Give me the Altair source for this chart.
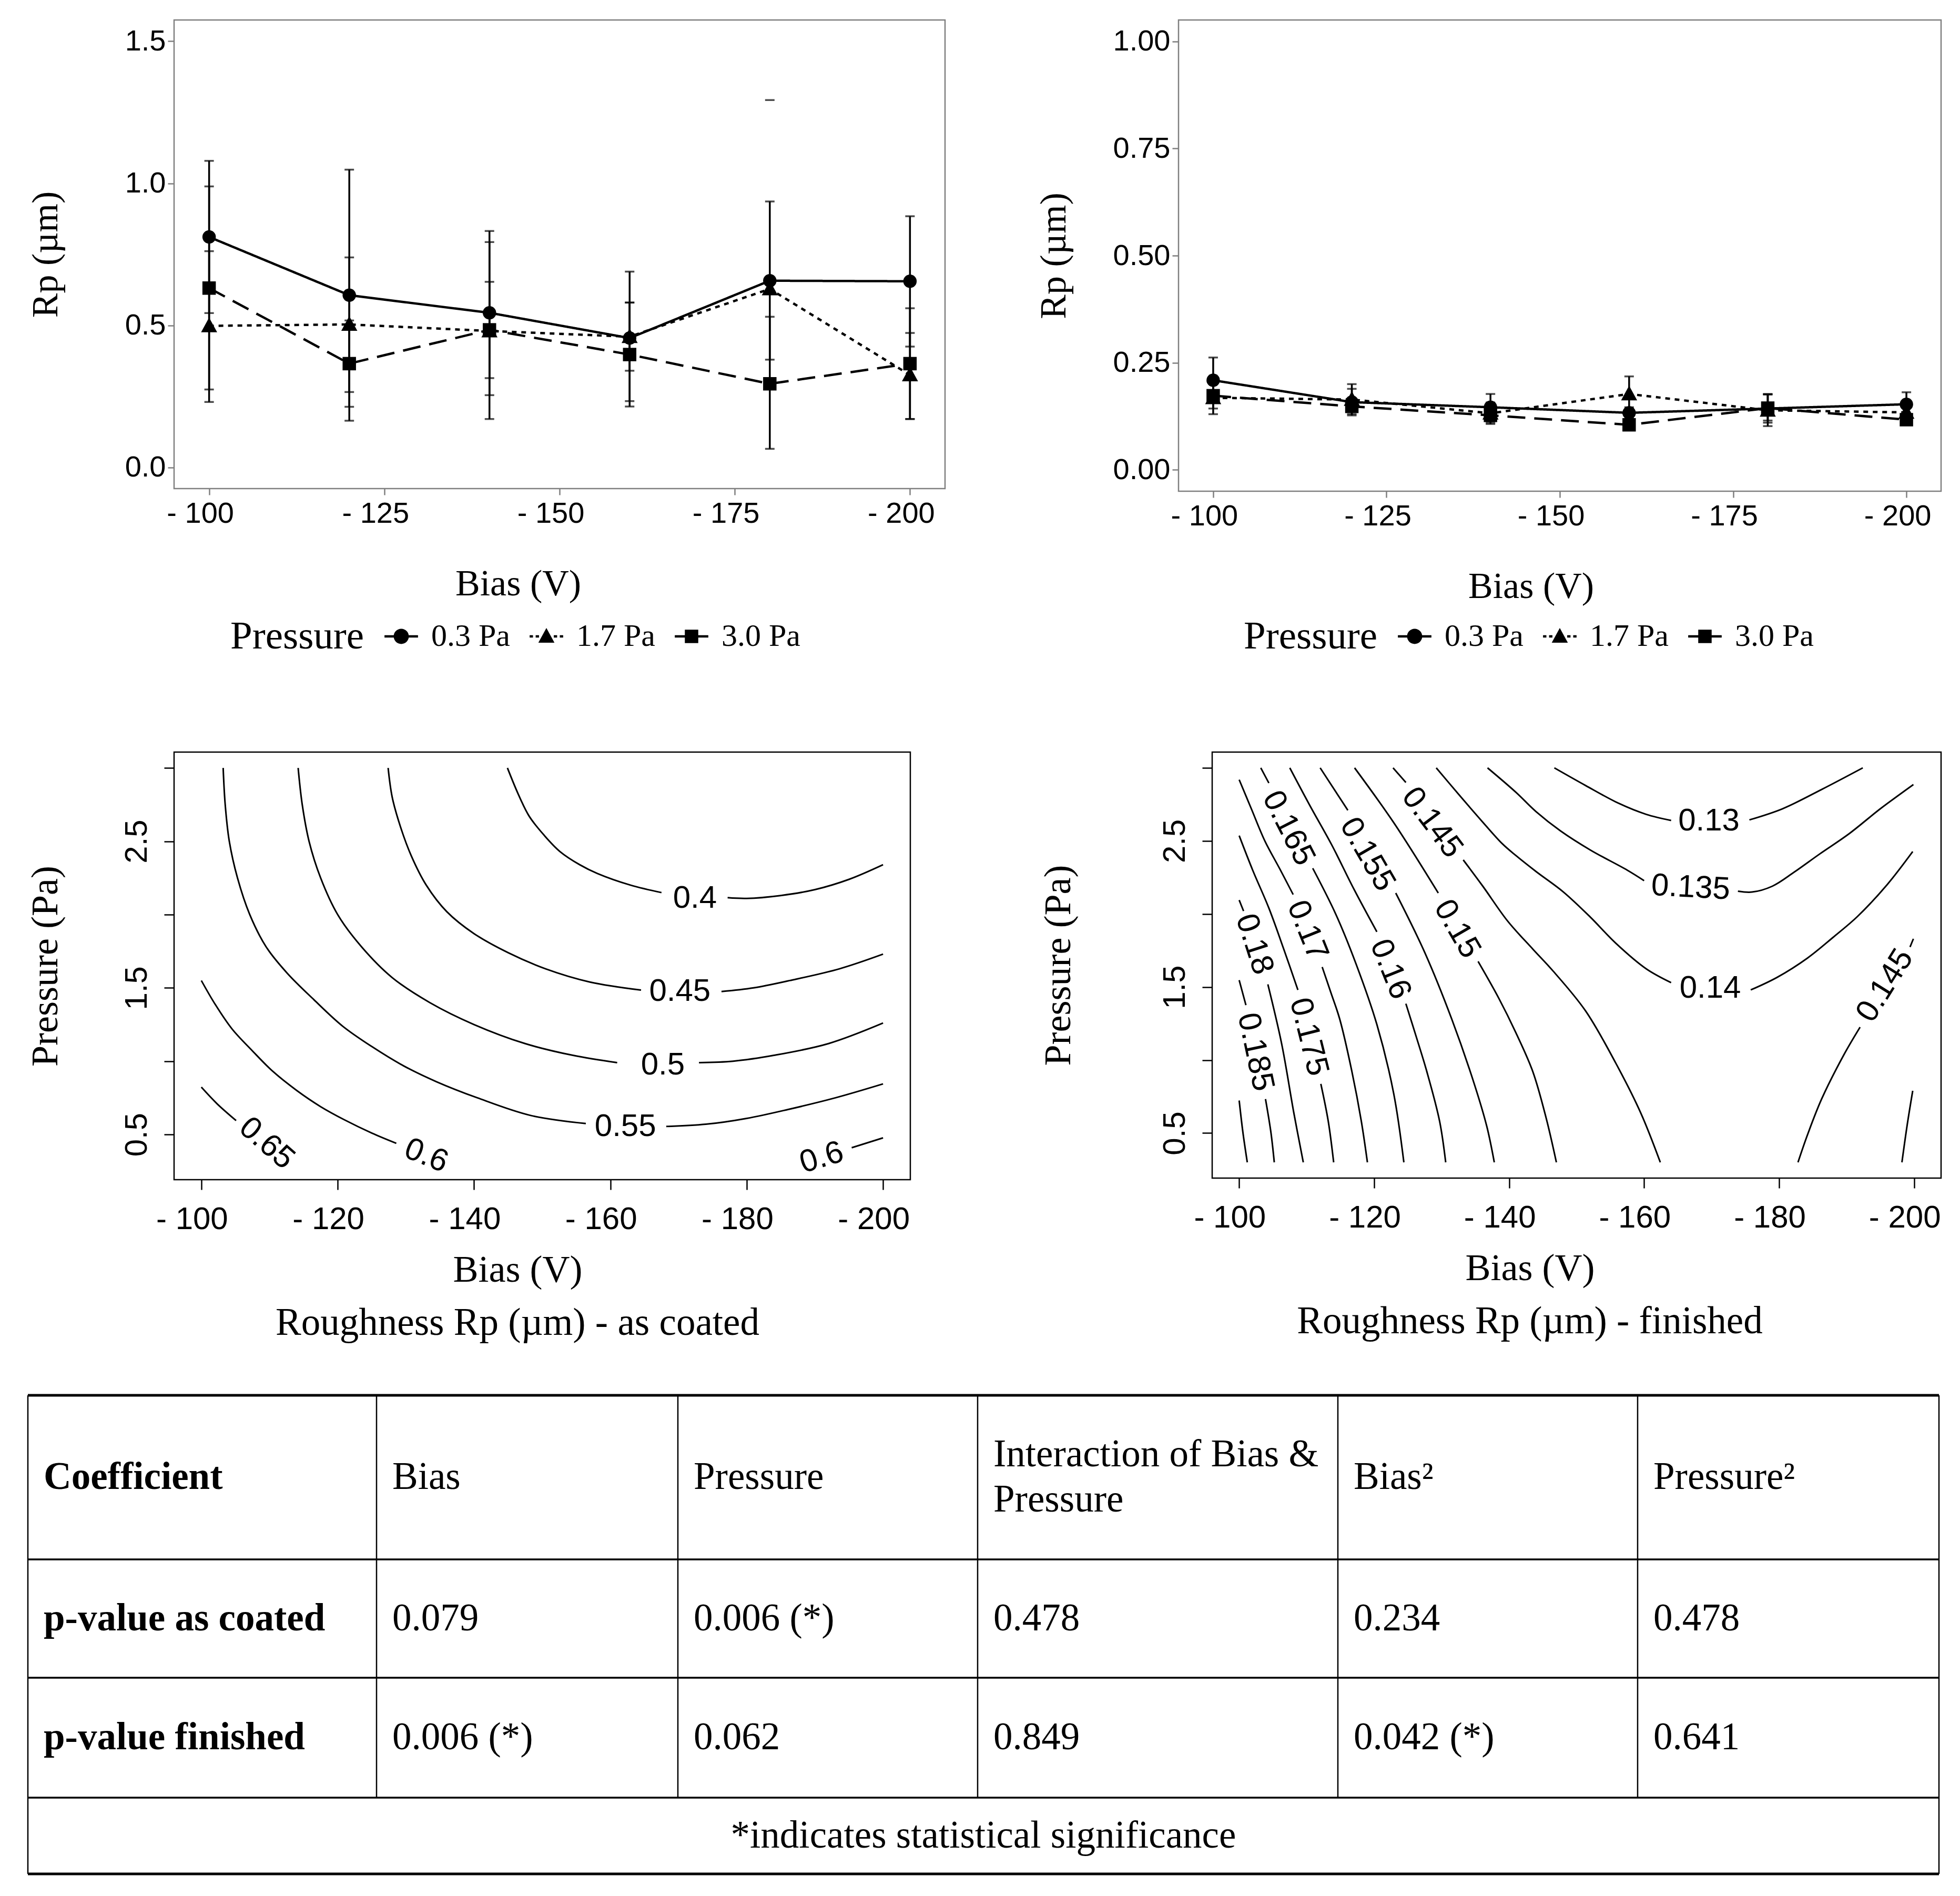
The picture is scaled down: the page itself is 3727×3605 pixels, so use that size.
import altair as alt
import pandas as pd

# ---------------- data ----------------
BIAS = [100, 120, 140, 160, 180, 200]          # |bias| in V (axis shows "- 100" ...)
PRESSURE_LEVELS = ["0.3 Pa", "1.7 Pa", "3.0 Pa"]

# as coated
coated_mean_03 = [0.811, 0.606, 0.544, 0.455, 0.657, 0.655]
coated_lo_03 = [0.543, 0.164, 0.254, 0.233, 0.379, 0.425]
coated_hi_03 = [1.079, 1.048, 0.832, 0.689, 0.936, 0.884]
coated_mean_17 = [0.498, 0.503, 0.480, 0.460, 0.628, 0.325]
coated_lo_17 = [0.230, 0.265, 0.314, 0.340, None, 0.170]
coated_hi_17 = [0.761, 0.739, 0.653, 0.580, None, 0.473]
coated_mean_30 = [0.631, 0.365, 0.484, 0.397, 0.294, 0.365]
coated_lo_30 = [0.274, 0.213, 0.170, 0.214, 0.065, 0.170]
coated_hi_30 = [0.989, 0.517, 0.793, 0.580, 0.530, 0.560]
coated_stray_cap_bias = [180]
coated_stray_cap_value = [1.293]

# finished
finished_mean_03 = [0.209, 0.158, 0.146, 0.133, 0.143, 0.153]
finished_lo_03 = [0.156, 0.127, 0.115, 0.120, 0.110, 0.125]
finished_hi_03 = [0.262, 0.189, 0.177, 0.146, 0.176, 0.181]
finished_mean_17 = [0.168, 0.164, 0.132, 0.177, 0.139, 0.134]
finished_lo_17 = [0.130, 0.135, 0.107, 0.136, 0.102, 0.120]
finished_hi_17 = [0.206, 0.200, 0.157, 0.218, 0.176, 0.150]
finished_mean_30 = [0.173, 0.148, 0.127, 0.105, 0.144, 0.117]
finished_lo_30 = [0.143, 0.130, 0.110, 0.096, 0.115, 0.107]
finished_hi_30 = [0.203, 0.166, 0.144, 0.114, 0.177, 0.127]

# contour lines (|bias| V, pressure Pa), split where the labels sit
coated_contours = [
    ("0.4", [(144.9, 3.0), (146.5, 2.82), (148.1, 2.67), (150.3, 2.54), (152.6, 2.43), (155.5, 2.34),
             (158.1, 2.28), (163.0, 2.20), (167.5, 2.15)]),
    ("0.4", [(177.2, 2.115), (180.0, 2.11), (185.0, 2.13), (190.0, 2.17), (195.0, 2.24), (200.0, 2.34)]),
    ("0.45", [(127.4, 3.0), (128.0, 2.8), (129.2, 2.6), (130.8, 2.4), (133.0, 2.2), (136.0, 2.02),
              (140.0, 1.87), (145.0, 1.74), (150.5, 1.63), (157.0, 1.54), (164.5, 1.485)]),
    ("0.45", [(176.3, 1.475), (181.0, 1.50), (186.3, 1.55), (193.6, 1.63), (200.0, 1.73)]),
    ("0.5", [(114.2, 3.0), (114.8, 2.75), (115.8, 2.5), (117.5, 2.25), (120.0, 2.0), (123.5, 1.78),
             (128.0, 1.57), (133.5, 1.40), (140.0, 1.25), (147.5, 1.12), (154.5, 1.04), (161.0, 0.99)]),
    ("0.5", [(173.0, 0.99), (178.0, 1.0), (184.0, 1.04), (192.0, 1.12), (200.0, 1.26)]),
    ("0.55", [(103.2, 3.0), (103.5, 2.75), (104.1, 2.5), (105.3, 2.25), (107.1, 2.0), (109.5, 1.78),
              (112.6, 1.60), (116.5, 1.42), (120.7, 1.24), (125.0, 1.10), (129.6, 0.97), (134.5, 0.86),
              (140.5, 0.75), (148.3, 0.63), (156.4, 0.575)]),
    ("0.55", [(168.2, 0.555), (174.0, 0.57), (180.0, 0.61), (186.0, 0.67), (193.0, 0.75), (200.0, 0.845)]),
    ("0.6", [(100.0, 1.55), (102.0, 1.39), (104.5, 1.22), (107.5, 1.07), (110.5, 0.93), (114.0, 0.80),
             (117.5, 0.69), (121.0, 0.60), (125.0, 0.51), (128.6, 0.44)]),
    ("0.6", [(195.4, 0.41), (200.0, 0.477)]),
    ("0.65", [(100.0, 0.823), (102.3, 0.71), (105.1, 0.595)]),
]
coated_labels = [
    ("0.4", 172.4, 2.11, 0), ("0.45", 170.2, 1.475, 0), ("0.5", 167.7, 0.975, 0),
    ("0.55", 162.2, 0.555, 0), ("0.6", 133.0, 0.355, 22), ("0.6", 191.0, 0.342, 343),
    ("0.65", 109.6, 0.44, 41),
]

finished_contours = [
    ("0.19", [(100.0, 0.723), (100.55, 0.506), (101.2, 0.30)]),
    ("0.185", [(100.0, 1.547), (101.0, 1.376)]),
    ("0.185", [(103.9, 0.733), (104.7, 0.506), (105.2, 0.30)]),
    ("0.18", [(100.0, 2.095), (100.65, 2.02)]),
    ("0.18", [(104.25, 1.518), (106.3, 1.11), (108.1, 0.638), (109.5, 0.30)]),
    ("0.175", [(100.0, 2.536), (102.0, 2.30), (104.4, 2.04), (106.6, 1.76), (108.7, 1.48)]),
    ("0.175", [(112.1, 0.837), (113.2, 0.581), (114.0, 0.30)]),
    ("0.17", [(100.0, 2.919), (101.8, 2.72), (103.8, 2.50), (106.0, 2.31), (108.0, 2.133)]),
    ("0.17", [(112.3, 1.637), (113.6, 1.46), (114.9, 1.28), (116.7, 0.922), (118.1, 0.581), (119.0, 0.30)]),
    ("0.165", [(103.2, 3.0), (104.4, 2.896)]),
    ("0.165", [(110.9, 2.313), (114.3, 2.0), (117.3, 1.66), (120.4, 1.244), (122.9, 0.77), (124.4, 0.30)]),
    ("0.16", [(107.5, 3.0), (110.5, 2.74), (113.7, 2.474), (117.0, 2.17), (120.4, 1.878)]),
    ("0.16", [(124.7, 1.386), (126.3, 1.15), (127.8, 0.922), (129.7, 0.581), (130.6, 0.30)]),
    ("0.155", [(112.0, 3.0), (116.1, 2.71)]),
    ("0.155", [(123.2, 2.143), (127.5, 1.736), (131.5, 1.28), (134.9, 0.827), (136.7, 0.544), (137.8, 0.30)]),
    ("0.15", [(117.1, 3.0), (122.9, 2.625), (129.5, 2.143)]),
    ("0.15", [(135.4, 1.675), (138.5, 1.42), (141.0, 1.187), (143.5, 0.922), (145.5, 0.60), (147.0, 0.30)]),
    ("0.145", [(122.8, 3.0), (124.7, 2.90)]),
    ("0.145", [(133.2, 2.37), (136.1, 2.19), (139.8, 1.95), (143.5, 1.76), (146.5, 1.61), (151.3, 1.338),
               (155.8, 0.979), (159.5, 0.638), (162.4, 0.30)]),
    ("0.14", [(129.2, 3.0), (132.5, 2.82), (135.8, 2.644), (139.0, 2.48), (141.0, 2.40), (144.0, 2.29),
              (148.0, 2.152), (152.0, 1.98), (155.8, 1.80), (160.3, 1.625), (164.0, 1.53)]),
    ("0.14", [(175.8, 1.48), (179.7, 1.566), (184.2, 1.698), (188.0, 1.84), (191.6, 1.982), (196.0, 2.20),
              (199.8, 2.427)]),
    ("0.135", [(136.8, 3.0), (141.0, 2.833), (144.0, 2.70), (147.6, 2.569), (152.1, 2.436), (157.5, 2.30),
               (160.0, 2.228)]),
    ("0.135", [(173.9, 2.156), (176.0, 2.15), (179.0, 2.19), (182.2, 2.285), (186.0, 2.41), (190.4, 2.55),
               (195.0, 2.72), (199.9, 2.886)]),
    ("0.13", [(146.7, 3.0), (151.3, 2.88), (156.2, 2.758), (160.3, 2.682), (164.0, 2.64)]),
    ("0.13", [(175.6, 2.644), (180.5, 2.72), (186.3, 2.852), (192.4, 3.0)]),
    ("0.145", [(199.9, 1.83), (199.4, 1.774)]),
    ("0.145", [(192.0, 1.225), (189.6, 1.036), (186.3, 0.733), (184.2, 0.487), (182.8, 0.30)]),
    ("0.15", [(199.8, 0.79), (199.0, 0.562), (198.2, 0.30)]),
]
finished_labels = [
    ("0.185", 102.4, 1.055, 78), ("0.18", 102.25, 1.793, 72), ("0.175", 110.3, 1.159, 76),
    ("0.17", 110.1, 1.887, 68), ("0.165", 107.3, 2.587, 63), ("0.16", 122.4, 1.622, 68),
    ("0.155", 119.0, 2.408, 60), ("0.15", 132.3, 1.897, 60), ("0.145", 128.6, 2.625, 53),
    ("0.14", 169.8, 1.49, 0), ("0.135", 166.9, 2.18, 3), ("0.13", 169.6, 2.635, 0),
    ("0.145", 195.7, 1.51, 302),
]

TABLE_HEADER = ["Coefficient", "Bias", "Pressure", "Interaction of Bias &\nPressure", "Bias²", "Pressure²"]
TABLE_ROW_COATED = ["p-value as coated", "0.079", "0.006 (*)", "0.478", "0.234", "0.478"]
TABLE_ROW_FINISHED = ["p-value finished", "0.006 (*)", "0.062", "0.849", "0.042 (*)", "0.641"]
TABLE_FOOTNOTE = "*indicates statistical significance"

# ---------------- styling constants ----------------
SERIF = "Liberation Serif"
SANS = "Liberation Sans"
GREY = "#7f7f7f"
MARKER_SHAPES = ["circle", "M0,-1.25L1.2,0.95L-1.2,0.95Z", "square"]
# legend keys: marker with a short piece of its line style through it (ggplot style)
KEY_SHAPES = [
    "M-1.13,0A1.13,1.13,0,1,1,1.13,0A1.13,1.13,0,1,1,-1.13,0Z M-2.5,-0.18H2.5V0.18H-2.5Z",
    "M0,-1.25L1.2,0.95L-1.2,0.95Z M-2.5,-0.18H-2.0V0.18H-2.5Z M-1.6,-0.18H-1.1V0.18H-1.6Z "
    "M1.1,-0.18H1.6V0.18H1.1Z M2.0,-0.18H2.5V0.18H2.0Z",
    "M-1,-1H1V1H-1Z M-2.5,-0.18H2.5V0.18H-2.5Z",
]
DASHES = [[1, 0], [9, 9], [34, 17]]


def series_frame(means, los, his):
    rows = []
    for lvl, m, lo, hi in zip(PRESSURE_LEVELS, means, los, his):
        for b, mv, l, h in zip(BIAS, m, lo, hi):
            rows.append(dict(bias=b, pressure=lvl, rp=mv, lo=l, hi=h))
    return pd.DataFrame(rows)


def line_panel(df, stray_b, stray_v, y_domain, y_values, y_format, width, height,
               y_title_pad, legend_x, x_title_dx):
    xs = alt.Scale(domain=[95, 205], nice=False, zero=False)
    ys = alt.Scale(domain=y_domain, nice=False, zero=False)
    xaxis = alt.Axis(values=[100, 125, 150, 175, 200], labelExpr="'- ' + datum.value",
                     title="Bias (V)", tickSize=12, tickWidth=2.5, tickColor=GREY,
                     labelPadding=8, labelFontSize=56, labelOffset=-17, labelFont=SANS,
                     titleFont=SERIF, titleFontSize=70, titleFontWeight="normal",
                     titlePadding=72, titleX=width / 2 + x_title_dx, domain=False, grid=False,
                     labelColor="black", titleColor="black")
    yaxis = alt.Axis(values=y_values, format=y_format, title="Rp (µm)", tickSize=12,
                     tickWidth=2.5, tickColor=GREY, labelPadding=4, labelFontSize=56,
                     labelFont=SANS, titleFont=SERIF, titleFontSize=70, titleFontWeight="normal",
                     titlePadding=y_title_pad, domain=False, grid=False,
                     labelColor="black", titleColor="black")
    X = lambda f: alt.X(f, type="quantitative", scale=xs, axis=xaxis)
    Y = lambda f: alt.Y(f, type="quantitative", scale=ys, axis=yaxis)

    err = df.dropna(subset=["lo", "hi"])
    rules = alt.Chart(err).mark_rule(color="black", strokeWidth=3.5).encode(
        x=X("bias"), y=Y("lo"), y2="hi")
    cap_lo = alt.Chart(err).mark_tick(color="black", orient="horizontal", size=18,
                                      thickness=3.5).encode(x=X("bias"), y=Y("lo"))
    cap_hi = alt.Chart(err).mark_tick(color="black", orient="horizontal", size=18,
                                      thickness=3.5).encode(x=X("bias"), y=Y("hi"))
    layers = [rules, cap_lo, cap_hi]
    if stray_b:
        sdf = pd.DataFrame({"bias": stray_b, "hi": stray_v})
        layers.append(alt.Chart(sdf).mark_tick(color="black", orient="horizontal", size=18,
                                               thickness=3.5).encode(x=X("bias"), y=Y("hi")))
    for lvl, dash in zip(PRESSURE_LEVELS, DASHES):
        layers.append(alt.Chart(df[df["pressure"] == lvl]).mark_line(
            color="black", strokeWidth=4.5, strokeDash=dash).encode(x=X("bias"), y=Y("rp")))
    points = alt.Chart(df).mark_point(filled=True, color="black", opacity=1, size=650).encode(
        x=X("bias"), y=Y("rp"),
        shape=alt.Shape("pressure:N",
                        scale=alt.Scale(domain=PRESSURE_LEVELS, range=MARKER_SHAPES),
                        legend=None))
    legend = alt.Legend(title="Pressure", orient="none", legendX=legend_x, legendY=1142,
                        direction="horizontal", titleOrient="left", titleFont=SERIF,
                        titleFontSize=75, titleFontWeight="normal", titleColor="black",
                        titleLimit=2000, labelLimit=2000,
                        titlePadding=40, labelFont=SERIF, labelFontSize=60, labelColor="black",
                        labelOffset=27, columnPadding=37, symbolSize=650, symbolOpacity=1,
                        symbolFillColor="black", symbolStrokeWidth=0)
    keys = alt.Chart(df).mark_point(filled=True, color="black", opacity=0, size=650).encode(
        x=X("bias"), y=Y("rp"),
        shape=alt.Shape("pressure:N",
                        scale=alt.Scale(domain=PRESSURE_LEVELS, range=KEY_SHAPES),
                        legend=legend))
    layers += [points, keys]
    return alt.layer(*layers).resolve_scale(shape="independent").properties(
        width=width, height=height,
        view=alt.ViewBackground(stroke=GREY, strokeWidth=2.5, fill="white"))


def contour_panel(lines, labels, width, height, y_title_pad, x_title_dx, subtitle, subtitle_dx):
    rows = []
    for i, (lvl, pts) in enumerate(lines):
        for j, (b, p) in enumerate(pts):
            rows.append(dict(seg=i, ord=j, level=lvl, bias=b, p=p))
    df = pd.DataFrame(rows)
    ldf = pd.DataFrame([dict(label=t, bias=b, p=p, angle=a) for t, b, p, a in labels])
    xs = alt.Scale(domain=[96, 204], nice=False, zero=False)
    ys = alt.Scale(domain=[0.192, 3.108], nice=False, zero=False)
    xaxis = alt.Axis(values=[100, 120, 140, 160, 180, 200], labelExpr="'- ' + datum.value",
                     title="Bias (V)", tickSize=19, tickWidth=2.5, tickColor="black",
                     labelPadding=27, labelFontSize=60, labelOffset=-18, labelFont=SANS,
                     titleFont=SERIF, titleFontSize=72, titleFontWeight="normal",
                     titlePadding=31, titleX=width / 2 + x_title_dx, domain=False, grid=False,
                     labelColor="black", titleColor="black")
    yaxis = alt.Axis(values=[0.5, 1.0, 1.5, 2.0, 2.5, 3.0],
                     labelExpr="(datum.value == 0.5 || datum.value == 1.5 || datum.value == 2.5) ? datum.label : ''",
                     labelAngle=270, labelAlign="center", labelBaseline="alphabetic",
                     title="Pressure (Pa)", tickSize=19, tickWidth=2.5, tickColor="black",
                     labelPadding=34, labelFontSize=60, labelFont=SANS, titleFont=SERIF,
                     titleFontSize=72, titleFontWeight="normal", titlePadding=y_title_pad,
                     domain=False, grid=False, labelColor="black", titleColor="black")
    X = alt.X("bias:Q", scale=xs, axis=xaxis)
    Y = alt.Y("p:Q", scale=ys, axis=yaxis)
    line = alt.Chart(df).mark_line(color="black", strokeWidth=3, interpolate="catmull-rom").encode(
        x=X, y=Y, detail="seg:N", order="ord:Q")
    text = alt.Chart(ldf).mark_text(font=SANS, fontSize=60, color="black", align="center",
                                    baseline="middle").encode(
        x=X, y=Y, text="label:N", angle=alt.Angle("angle:Q", scale=None))
    return alt.layer(line, text).properties(
        width=width, height=height,
        view=alt.ViewBackground(stroke="black", strokeWidth=2.5, fill="white"),
        title=alt.TitleParams(subtitle, orient="bottom", font=SERIF, fontSize=73,
                              fontWeight="normal", color="black", offset=30, dx=subtitle_dx,
                              anchor="middle", frame="group"))


# ---------------- table ----------------
TABLE_W, TABLE_H = 3634, 910
TABLE_SHIFT = 278          # table starts this far left of the plot areas
COL_EDGES = [0, 663, 1236, 1806, 2491, 3061, 3634]
ROW_EDGES = [0, 312, 537, 765, 910]
CELL_PAD = 30
LINE_H = 86


def table_chart():
    rule_rows = []
    for y in ROW_EDGES:
        rule_rows.append(dict(x=0, x2=TABLE_W, y=y, y2=y, w=5 if y in (0, TABLE_H) else 3.5))
    for x in COL_EDGES:
        bottom = TABLE_H if x in (0, TABLE_W) else ROW_EDGES[3]
        rule_rows.append(dict(x=x, x2=x, y=0, y2=bottom, w=2.5))
    rdf = pd.DataFrame(rule_rows)
    cells = []
    for r, row in enumerate([TABLE_HEADER, TABLE_ROW_COATED, TABLE_ROW_FINISHED]):
        yc = (ROW_EDGES[r] + ROW_EDGES[r + 1]) / 2
        for c, txt in enumerate(row):
            cells.append(dict(x=COL_EDGES[c] + CELL_PAD, y=yc, t=txt, bold=(c == 0),
                              multi=("\n" in txt)))
    cdf = pd.DataFrame(cells)
    xs = alt.Scale(domain=[TABLE_SHIFT, TABLE_W], nice=False, zero=False)
    ys = alt.Scale(domain=[0, TABLE_H], nice=False, zero=False, reverse=True)
    X = lambda f: alt.X(f, type="quantitative", scale=xs, axis=None)
    Y = lambda f: alt.Y(f, type="quantitative", scale=ys, axis=None)
    rules = alt.Chart(rdf).mark_rule(color="black").encode(
        x=X("x"), x2="x2", y=Y("y"), y2="y2", size=alt.Size("w:Q", scale=None))
    normal = alt.Chart(cdf[(~cdf["bold"]) & (~cdf["multi"])]).mark_text(
        font=SERIF, fontSize=73, align="left", baseline="middle", color="black").encode(
        x=X("x"), y=Y("y"), text="t:N")
    multi = alt.Chart(cdf[cdf["multi"]]).mark_text(
        font=SERIF, fontSize=73, align="left", baseline="middle", color="black",
        lineBreak="\n", lineHeight=LINE_H, dy=-LINE_H / 2).encode(
        x=X("x"), y=Y("y"), text="t:N")
    bold = alt.Chart(cdf[cdf["bold"]]).mark_text(
        font=SERIF, fontSize=73, fontWeight="bold", align="left", baseline="middle",
        color="black").encode(x=X("x"), y=Y("y"), text="t:N")
    fdf = pd.DataFrame([dict(x=TABLE_W / 2, y=(ROW_EDGES[3] + ROW_EDGES[4]) / 2, t=TABLE_FOOTNOTE)])
    foot = alt.Chart(fdf).mark_text(font=SERIF, fontSize=73, align="center", baseline="middle",
                                    color="black").encode(x=X("x"), y=Y("y"), text="t:N")
    return alt.layer(rules, normal, multi, bold, foot).properties(
        width=TABLE_W - TABLE_SHIFT, height=TABLE_H,
        view=alt.ViewBackground(stroke="white", strokeWidth=0))


coated_df = series_frame([coated_mean_03, coated_mean_17, coated_mean_30],
                         [coated_lo_03, coated_lo_17, coated_lo_30],
                         [coated_hi_03, coated_hi_17, coated_hi_30])
finished_df = series_frame([finished_mean_03, finished_mean_17, finished_mean_30],
                           [finished_lo_03, finished_lo_17, finished_lo_30],
                           [finished_hi_03, finished_hi_17, finished_hi_30])

tl = line_panel(coated_df, coated_stray_cap_bias, coated_stray_cap_value, [-0.075, 1.575],
                [0.0, 0.5, 1.0, 1.5], ".1f", 1466, 891, 114, 107, -79)
tr = line_panel(finished_df, [], [], [-0.05, 1.05], [0.0, 0.25, 0.5, 0.75, 1.0], ".2f",
                1450, 896, 76, 124, -55)
ml = contour_panel(coated_contours, coated_labels, 1400, 813, 107, -47,
                   "Roughness Rp (µm) - as coated", -47)
mr = contour_panel(finished_contours, finished_labels, 1386, 810, 155, -89,
                   "Roughness Rp (µm) - finished", -89)

IND = dict(x="independent", y="independent", shape="independent")
row1 = alt.hconcat(tl, tr, spacing=168).resolve_scale(**IND).resolve_legend(shape="independent")
row2 = alt.hconcat(ml, mr, spacing=241).resolve_scale(x="independent", y="independent")
upper = alt.vconcat(row1, row2, spacing=178).resolve_scale(**IND).resolve_legend(shape="independent")
chart = alt.vconcat(upper, table_chart(), spacing=95).resolve_scale(**IND).resolve_legend(
    shape="independent").properties(
    padding={"left": 40, "top": 28, "right": 10, "bottom": 10},
    background="white"
).configure_view(strokeWidth=0).configure_axis(grid=False)

chart.save("out.html", embed_options={"renderer": "svg", "actions": False})
